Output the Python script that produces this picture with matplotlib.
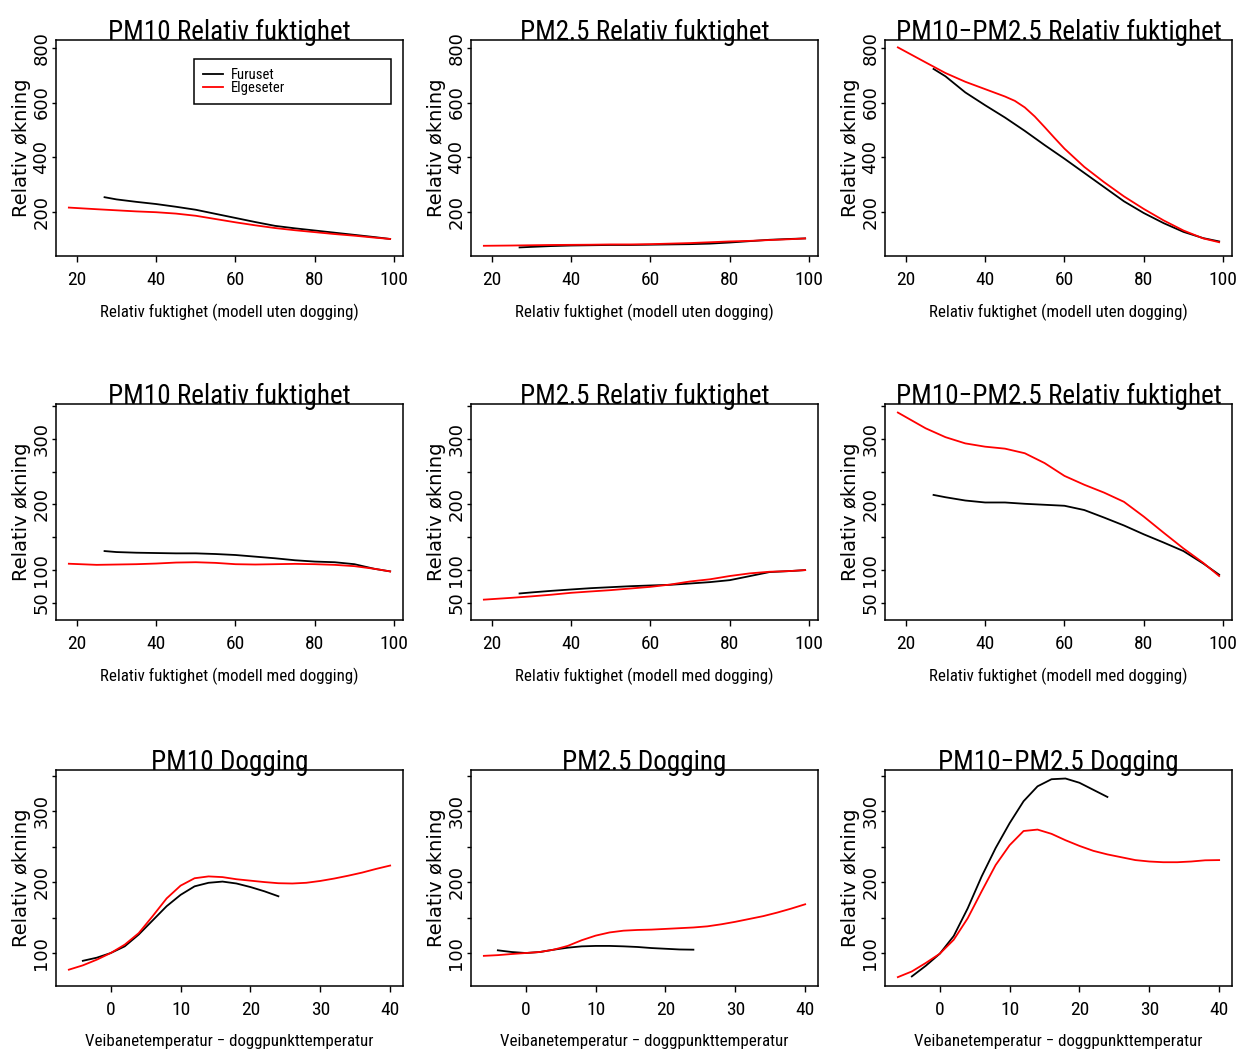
import numpy as np
import matplotlib
matplotlib.use('Agg')
import matplotlib.pyplot as plt
from matplotlib import font_manager as fm


def pick_narrow():
    # a condensed sans like the original's Helvetica Narrow, if one is installed
    names = {f.name for f in fm.fontManager.ttflist}
    for pref in ['Liberation Sans Narrow', 'Arial Narrow', 'Nimbus Sans Narrow',
                 'Roboto Condensed', 'Open Sans Condensed', 'DejaVu Sans Condensed']:
        if pref in names:
            return dict(family=pref), 1.0
    for f in fm.fontManager.ttflist:
        if 'Narrow' in f.name or 'Condensed' in f.name:
            return dict(family=f.name), 1.0
    for f in fm.fontManager.ttflist:
        if 'condensed' in str(f.stretch) and 'Mono' not in f.name:
            return dict(family=f.name, fontstretch=f.stretch), 1.0
    return dict(family='Liberation Sans'), 0.95


NARROW, SHRINK = pick_narrow()
WIDE = dict(family='DejaVu Sans')

# x grids (relativ fuktighet / temperaturdifferanse)
rh_furuset = [27, 30, 35, 40, 45, 50, 55, 60, 65, 70, 75, 80, 85, 90, 95, 99]
rh_elgeseter = [18, 25, 30, 35, 40, 45, 50, 55, 60, 65, 70, 75, 80, 85, 90, 95, 99]
rh_elg_fine = [18, 25, 30, 35, 40, 45, 47.5, 50, 52.5, 55, 57.5, 60, 65, 70, 75, 80, 85, 90, 95, 99]
dt_furuset = [-4, -2, 0, 2, 4, 6, 8, 10, 12, 14, 16, 18, 20, 22, 24]
dt_elgeseter = [-6, -4, -2, 0, 2, 4, 6, 8, 10, 12, 14, 16, 18, 20, 22, 24,
                26, 28, 30, 32, 34, 36, 38, 40]

# row 1: relativ fuktighet, modell uten dogging
pm10_uten_fur = [253, 245, 236, 228, 218, 207, 192, 177, 162, 148, 139, 131, 123, 115, 107, 100]
pm10_uten_elg = [215, 209, 205, 201, 198, 193, 185, 173, 161, 150, 140, 132, 125, 118, 112, 105, 100]
pm25_uten_fur = [69, 71, 74, 76, 77, 78, 78, 79, 80, 81, 83, 87, 92, 97, 100, 102]
pm25_uten_elg = [75, 76, 77, 78, 78.5, 79, 80, 80, 81, 83, 85, 88, 91, 93, 96, 99, 102]
grov_uten_fur = [723, 696, 637, 590, 545, 496, 444, 394, 342, 290, 238, 195, 158, 126, 103, 91]
grov_uten_elg = [802, 747, 708, 676, 649, 622, 606, 582, 549, 510, 470, 431, 364, 308, 256,
                 210, 168, 131, 102, 88]

# row 2: relativ fuktighet, modell med dogging
pm10_med_fur = [129, 127.5, 126.5, 126, 125.5, 125.5, 124.5, 123, 120.5, 118, 115, 113, 112, 109, 102, 98]
pm10_med_elg = [109.7, 108, 108.5, 109, 110, 111.5, 112, 111, 109, 108.5, 109, 109.5, 109, 108, 106, 102, 98]
pm25_med_fur = [64.4, 66, 68.4, 70.5, 72.5, 74, 75.5, 76.6, 77.6, 79.6, 81.7, 84.7, 90.8, 97, 98.5, 100]
pm25_med_elg = [55, 57.8, 60, 62.5, 65.4, 67.5, 69.5, 72, 74.5, 78, 82.7, 86, 91, 95, 97.5, 98.5, 100]
grov_med_fur = [214.5, 211, 206, 203, 203, 201, 199.5, 198, 191.5, 180, 168, 154.5, 142, 129, 110, 93]
grov_med_elg = [340, 316, 302.5, 293, 288, 285, 278, 263, 243.5, 230, 218, 204, 181.5, 157, 133, 111, 91]

# row 3: dogging
pm10_dog_fur = [89, 93.4, 100, 109.4, 126, 146, 166, 182, 194, 199, 200.7, 198, 193, 187, 180]
pm10_dog_elg = [76.5, 82.6, 90.6, 100, 111.8, 128, 152, 177, 195, 205.4, 208, 207, 204, 202,
                200, 198.4, 198, 199, 201.6, 205, 209, 213.4, 218.6, 223.3]
pm25_dog_fur = [103.8, 101.4, 100, 101.4, 104.7, 107.5, 109.4, 110, 110, 109.4, 108.5, 107, 106, 105, 104.7]
pm25_dog_elg = [96, 97, 98.6, 100, 101.4, 104.7, 110, 118, 124.5, 129, 131.5, 132.5, 133, 134,
                135, 136, 137.6, 140.5, 144, 148, 152, 157, 162.6, 168.7]
grov_dog_fur = [67, 82, 99, 124, 163, 208, 248, 283, 314, 335, 345, 346, 340, 330, 320]
grov_dog_elg = [66, 74, 86, 99, 118.7, 149, 187, 224, 252, 272, 274, 268, 259, 251, 244, 239,
                235, 231, 229, 228, 228, 229, 230.7, 231]

stations = ['Furuset', 'Elgeseter']
components = ['PM10', 'PM2.5', 'PM10\u2212PM2.5']
xlabel_uten = 'Relativ fuktighet (modell uten dogging)'
xlabel_med = 'Relativ fuktighet (modell med dogging)'
xlabel_dog = 'Veibanetemperatur \u2212 doggpunkttemperatur'

rows = [
    dict(suffix='Relativ fuktighet', xlabel=xlabel_uten,
         xs=[(rh_furuset, rh_elgeseter), (rh_furuset, rh_elgeseter), (rh_furuset, rh_elg_fine)],
         ys=[(pm10_uten_fur, pm10_uten_elg), (pm25_uten_fur, pm25_uten_elg), (grov_uten_fur, grov_uten_elg)],
         xlim=(14.76, 102.24), xticks=[20, 40, 60, 80, 100],
         ylim=(37.6, 829), yticks=[200, 400, 600, 800], ylabels=['200', '400', '600', '800']),
    dict(suffix='Relativ fuktighet', xlabel=xlabel_med,
         xs=[(rh_furuset, rh_elgeseter)] * 3,
         ys=[(pm10_med_fur, pm10_med_elg), (pm25_med_fur, pm25_med_elg), (grov_med_fur, grov_med_elg)],
         xlim=(14.76, 102.24), xticks=[20, 40, 60, 80, 100],
         ylim=(24, 353), yticks=[50, 100, 150, 200, 250, 300, 350],
         ylabels=['50', '100', '', '200', '', '300', '']),
    dict(suffix='Dogging', xlabel=xlabel_dog,
         xs=[(dt_furuset, dt_elgeseter)] * 3,
         ys=[(pm10_dog_fur, pm10_dog_elg), (pm25_dog_fur, pm25_dog_elg), (grov_dog_fur, grov_dog_elg)],
         xlim=(-7.84, 41.84), xticks=[0, 10, 20, 30, 40],
         ylim=(53.5, 358), yticks=[100, 150, 200, 250, 300, 350],
         ylabels=['100', '', '200', '', '300', '']),
]

W, H = 1239, 1054
fig = plt.figure(figsize=(W / 100, H / 100), dpi=100, facecolor='white')
col_left = [56, 471, 885]
row_top = [40, 404, 770]
aw, ah = 347, 216

for r, row in enumerate(rows):
    for c in range(3):
        ax = fig.add_axes([col_left[c] / W, 1 - (row_top[r] + ah) / H, aw / W, ah / H])
        xf, xe = row['xs'][c]
        yf, ye = row['ys'][c]
        l1, = ax.plot(xf, yf, color='black', lw=1.3, label=stations[0])
        l2, = ax.plot(xe, ye, color='red', lw=1.3, label=stations[1])
        ax.set_xlim(*row['xlim'])
        ax.set_ylim(*row['ylim'])
        ax.set_xticks(row['xticks'])
        ax.set_xticklabels([str(t) for t in row['xticks']], fontsize=14 * SHRINK, **NARROW)
        ax.set_yticks(row['yticks'])
        ax.set_yticklabels(row['ylabels'], fontsize=13, rotation=90, va='center', **WIDE)
        ax.tick_params(axis='x', length=4, width=1, pad=7)
        ax.tick_params(axis='y', length=3, width=1, pad=1)
        for s in ax.spines.values():
            s.set_linewidth(1.1)
        ax.set_xlabel(row['xlabel'], fontsize=12.2 * SHRINK, **NARROW)
        ax.xaxis.set_label_coords(0.5, -0.222)
        ax.set_ylabel('Relativ \u00f8kning', fontsize=14, **WIDE)
        ax.yaxis.set_label_coords(-0.072, 0.5)
        ax.text(0.5, 1.0, components[c] + ' ' + row['suffix'], transform=ax.transAxes,
                ha='center', va='baseline', fontsize=19.5 * SHRINK, zorder=5, **NARROW)
        if r == 0 and c == 0:
            leg = ax.legend(handles=[l1, l2], loc='upper left',
                            bbox_to_anchor=(0.398, 0.911, 0.567, 0.0), mode='expand',
                            borderaxespad=0, fancybox=False, framealpha=1,
                            edgecolor='black',
                            prop=fm.FontProperties(size=10.5 * SHRINK,
                                                   family=NARROW['family'],
                                                   stretch=NARROW.get('fontstretch', 'normal')),
                            handlelength=1.4, handletextpad=0.5, labelspacing=-0.05,
                            borderpad=0.6)
            leg.get_frame().set_linewidth(1.1)

fig.savefig('out.png', dpi=100, facecolor='white')
